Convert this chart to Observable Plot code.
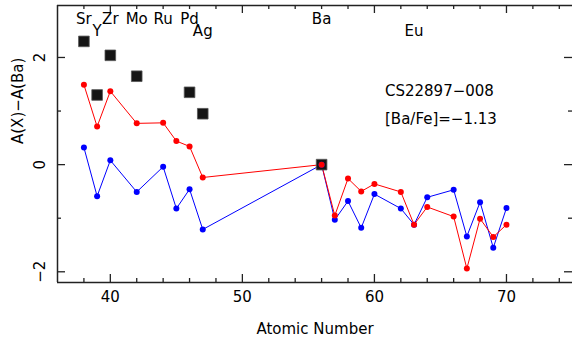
<!DOCTYPE html>
<html>
<head>
<meta charset="utf-8">
<script src="https://cdn.jsdelivr.net/npm/d3@7"></script>
<script src="https://cdn.jsdelivr.net/npm/@observablehq/plot@0.6"></script>
<style>
  html, body { margin: 0; padding: 0; background: #fff; }
  svg { display: block; }
</style>
</head>
<body>
<div id="chart"></div>
<script>
// ---- data ----
const elements = ["Sr","Y","Zr","Mo","Ru","Rh","Pd","Ag","Ba","La","Ce","Pr","Nd","Sm","Eu","Gd","Dy","Ho","Er","Tm","Yb"];
const atomicNumbers = [38,39,40,42,44,45,46,47,56,57,58,59,60,62,63,64,66,67,68,69,70];
const redValues  = [1.49,0.71,1.37,0.77,0.78,0.44,0.34,-0.24,0,-0.95,-0.26,-0.50,-0.36,-0.51,-1.12,-0.79,-0.97,-1.94,-1.01,-1.35,-1.12];
const blueValues = [0.32,-0.59,0.08,-0.51,-0.04,-0.82,-0.46,-1.21,0,-1.03,-0.68,-1.18,-0.55,-0.82,-1.12,-0.61,-0.47,-1.34,-0.70,-1.55,-0.81];

const starZ      = [38,39,40,42,46,47,56];
const starValues = [2.30,1.30,2.04,1.65,1.35,0.95,0];

const upperLabels  = ["Sr","Zr","Mo","Ru","Pd","Ba"];
const upperLabelZ  = [38,40,42,44,46,56];
const lowerLabels  = ["Y","Ag","Eu"];
const lowerLabelZ  = [39,47,63];

const xMajorTicks = [40,50,60,70];
const xMinorTicks = [38,42,44,46,48,52,54,56,58,62,64,66,68,72,74];
const yMajorTicks = [-2,0,2];
const yMinorTicks = [-1,1];

const starName = "CS22897\u2212008";
const starNote = "[Ba/Fe]=\u22121.13";
const xTitle = "Atomic Number";
const yTitle = "A(X)\u2212A(Ba)";

// ---- tables ----
const red  = atomicNumbers.map((z, i) => ({z, v: redValues[i], el: elements[i]}));
const blue = atomicNumbers.map((z, i) => ({z, v: blueValues[i], el: elements[i]}));
const stars = starZ.map((z, i) => ({z, v: starValues[i]}));

const W = 572, H = 341;
const mL = 57, mR = 0, mT = 5, mB = 59;
const fw = W - mL - mR, fh = H - mT - mB;
const ax = "#222";
const fmt = d => d < 0 ? "\u2212" + Math.abs(d) : String(d);

const chart = Plot.plot({
  width: W, height: H,
  marginLeft: mL, marginRight: mR, marginTop: mT, marginBottom: mB,
  x: {domain: [36, 75], axis: null},
  y: {domain: [-2.2, 2.97], axis: null},
  style: {fontFamily: "DejaVu Sans", fontSize: "15px", background: "#fff", color: "#000"},
  marks: [
    // box (left, top, bottom)
    Plot.ruleX([36], {stroke: ax, strokeWidth: 1.5}),
    Plot.ruleY([-2.2, 2.97], {stroke: ax, strokeWidth: 1.5}),
    // ticks bottom / top
    Plot.tickX(xMajorTicks, {x: d => d, insetTop: fh - 8, stroke: ax, strokeWidth: 1.3}),
    Plot.tickX(xMinorTicks, {x: d => d, insetTop: fh - 4, stroke: ax, strokeWidth: 1.3}),
    Plot.tickX(xMajorTicks, {x: d => d, insetBottom: fh - 8, stroke: ax, strokeWidth: 1.3}),
    Plot.tickX(xMinorTicks, {x: d => d, insetBottom: fh - 4, stroke: ax, strokeWidth: 1.3}),
    // ticks left / right
    Plot.tickY(yMajorTicks, {y: d => d, insetRight: fw - 8, stroke: ax, strokeWidth: 1.3}),
    Plot.tickY(yMinorTicks, {y: d => d, insetRight: fw - 4, stroke: ax, strokeWidth: 1.3}),
    Plot.tickY(yMajorTicks, {y: d => d, insetLeft: fw - 8, stroke: ax, strokeWidth: 1.3}),
    Plot.tickY(yMinorTicks, {y: d => d, insetLeft: fw - 4, stroke: ax, strokeWidth: 1.3}),
    // tick labels
    Plot.text(xMajorTicks, {x: d => d, frameAnchor: "bottom", dy: 15, text: d => String(d), lineAnchor: "middle", fontSize: 15}),
    Plot.text(yMajorTicks, {y: d => d, frameAnchor: "left", dx: -17, rotate: -90, text: fmt, lineAnchor: "middle", textAnchor: "middle", fontSize: 15}),
    // axis titles
    Plot.text([xTitle], {frameAnchor: "bottom", dy: 47, text: d => d, lineAnchor: "middle", fontSize: 15}),
    Plot.text([yTitle], {frameAnchor: "left", dx: -39, rotate: -90, text: d => d, lineAnchor: "middle", fontSize: 15}),
    // element labels
    Plot.text(upperLabels, {x: (d, i) => upperLabelZ[i], frameAnchor: "top", dy: 14, text: d => d, lineAnchor: "middle", fontSize: 15}),
    Plot.text(lowerLabels, {x: (d, i) => lowerLabelZ[i], frameAnchor: "top", dy: 26, text: d => d, lineAnchor: "middle", fontSize: 15}),
    // annotation
    Plot.text([starName], {x: 60.8, y: 1.29, text: d => d, textAnchor: "start", lineAnchor: "bottom", fontSize: 15}),
    Plot.text([starNote], {x: 60.8, y: 0.75, text: d => d, textAnchor: "start", lineAnchor: "bottom", fontSize: 15}),
    // data
    Plot.line(blue, {x: "z", y: "v", stroke: "#0000ff", strokeWidth: 1}),
    Plot.line(red, {x: "z", y: "v", stroke: "#ff0000", strokeWidth: 1}),
    Plot.dot(stars, {x: "z", y: "v", symbol: "square", r: 6, fill: "#151515", stroke: "#555", strokeWidth: 0.8}),
    Plot.dot(blue, {x: "z", y: "v", r: 3, fill: "#0000ff"}),
    Plot.dot(red, {x: "z", y: "v", r: 3, fill: "#ff0000"})
  ]
});
document.getElementById("chart").appendChild(chart);
</script>
</body>
</html>
